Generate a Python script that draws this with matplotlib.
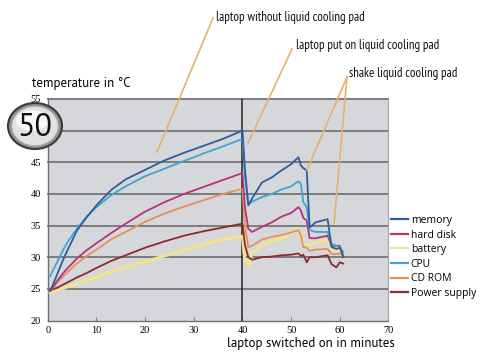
import matplotlib
matplotlib.use("Agg")
import matplotlib.pyplot as plt
from matplotlib.patches import Ellipse
from matplotlib.lines import Line2D

# ---- data (minutes, °C) ----
minutes = [0.5, 1, 2, 3, 4, 6, 8, 10, 13, 16, 20, 24, 28, 32, 36, 40, 40.5, 41.2, 42, 44, 46, 48, 50,
           51.5, 52, 52.5, 53.2, 53.8, 55, 57.5, 58.3, 59.3, 60, 60.7]
memory = [24.7, 25.5, 27.4, 29.3, 31.0, 34.2, 36.3, 38.2, 40.6, 42.3, 43.8, 45.3, 46.5, 47.6, 48.7, 50.0, 44.0,
          38.2, 39.3, 41.8, 42.6, 43.7, 44.7, 45.8, 44.5, 44.1, 43.7, 34.7, 35.5, 36.0, 31.6, 31.3, 31.5, 30.2]
hard_disk = [24.7, 25.2, 26.3, 27.3, 28.2, 29.8, 31.1, 32.2, 33.8, 35.3, 37.2, 38.7, 40.0, 41.1, 42.2, 43.3, 38.0,
             34.5, 34.0, 34.8, 35.5, 36.4, 37.0, 37.9, 37.4, 36.2, 35.8, 33.0, 33.0, 33.4, 31.8, 31.8, 31.8, 30.0]
battery = [24.4, 24.5, 24.8, 25.0, 25.3, 25.8, 26.4, 26.9, 27.7, 28.4, 29.3, 30.2, 31.1, 32.0, 32.8, 33.3, 29.5,
           28.6, 30.8, 31.8, 32.5, 33.0, 33.8, 34.5, 33.5, 32.1, 32.0, 32.0, 32.3, 32.8, 31.3, 31.0, 31.0, 30.8]
cpu = [27.0, 27.8, 29.3, 30.9, 32.3, 34.5, 36.4, 37.9, 39.8, 41.2, 42.8, 44.0, 45.2, 46.4, 47.5, 48.7, 43.0,
       38.3, 38.8, 39.5, 40.0, 40.7, 41.2, 42.0, 41.6, 38.7, 37.9, 34.3, 34.0, 34.0, 32.1, 31.8, 31.6, 30.8]
cd_rom = [24.7, 25.1, 26.0, 26.8, 27.6, 29.0, 30.2, 31.2, 32.8, 34.0, 35.6, 36.9, 38.0, 39.0, 40.0, 40.8, 35.0,
          31.6, 31.8, 32.8, 33.2, 33.5, 33.9, 34.3, 33.5, 31.6, 31.5, 31.0, 31.2, 31.3, 30.5, 30.5, 30.6, 30.3]
power_supply = [24.7, 24.9, 25.2, 25.6, 26.0, 26.8, 27.5, 28.3, 29.4, 30.3, 31.5, 32.5, 33.4, 34.1, 34.7, 35.3, 32.0,
                30.0, 29.6, 30.0, 30.1, 30.3, 30.4, 30.6, 30.2, 30.4, 29.2, 30.0, 30.0, 30.3, 28.9, 28.4, 29.2, 29.0]

series_names = ["memory", "hard disk", "battery", "CPU", "CD ROM", "Power supply"]
series_values = [memory, hard_disk, battery, cpu, cd_rom, power_supply]
series_colors = ["#2c5f9e", "#b5337a", "#f3e48c", "#3fa4d2", "#e3925a", "#8a2b2e"]
series_widths = [1.3, 1.3, 2.2, 1.3, 1.3, 1.3]

x_ticks = [0, 10, 20, 30, 40, 50, 60, 70]
y_ticks = [20, 25, 30, 35, 40, 45, 55]

W, H = 481, 358
fig = plt.figure(figsize=(W / 100, H / 100), dpi=100)
fig.patch.set_facecolor("white")


def fx(px):
    return px / W


def fy(py):
    return 1 - py / H


ax = fig.add_axes([fx(47.7), fy(320.5), fx(388.5) - fx(47.7), fy(99) - fy(320.5)])
ax.set_facecolor("#d5d7da")
ax.set_xlim(0, 70)
ax.set_ylim(20, 55)

for yv in [25, 30, 35, 40, 45, 50, 55]:
    ax.axhline(yv, color="#7b7c7e", lw=1.4, zorder=1, clip_on=False)
ax.axvline(40, color="#222222", lw=1.1, zorder=2)

order = [2, 5, 4, 1, 3, 0]
for i in order:
    ax.plot(minutes, series_values[i], color=series_colors[i], lw=series_widths[i], zorder=3,
            solid_joinstyle="round")

ax.spines["top"].set_visible(False)
ax.spines["right"].set_color("#a0a2a5")
ax.spines["right"].set_linewidth(0.8)
for s in ["left", "bottom"]:
    ax.spines[s].set_color("#6d6e70")
    ax.spines[s].set_linewidth(1.0)

ax.set_xticks(x_ticks)
ax.set_yticks(y_ticks)
ax.tick_params(axis="x", length=3, direction="in", color="#888888", labelsize=7.5, pad=4)
ax.tick_params(axis="y", length=0, labelsize=7.5, pad=5)
for lab in ax.get_xticklabels() + ax.get_yticklabels():
    lab.set_family("Liberation Serif")

# axis titles
fig.text(fx(32), fy(84), "temperature in °C", fontsize=9.3, family="PT Sans", va="center", ha="left")
fig.text(fx(227), fy(344), "laptop switched on in minutes", fontsize=9.3, family="PT Sans",
         va="center", ha="left")

# legend
handles = [Line2D([0], [0], color=c, lw=1.6) for c in series_colors]
leg = fig.legend(handles, series_names, loc="upper left", bbox_to_anchor=(fx(391), fy(215)),
                 frameon=False, handlelength=1.6, handletextpad=0.3,
                 labelspacing=0.34, borderpad=0, borderaxespad=0,
                 prop={"family": "Open Sans", "size": 7.5})

# annotations
ann_color = "#e6b26c"
fig.add_artist(Line2D([fx(213), fx(157)], [fy(18), fy(152)], color=ann_color, lw=1.2))
fig.add_artist(Line2D([fx(292), fx(248)], [fy(49), fy(143)], color=ann_color, lw=1.2))
fig.add_artist(Line2D([fx(347), fx(307)], [fy(77), fy(170)], color=ann_color, lw=1.2))
fig.add_artist(Line2D([fx(347), fx(334)], [fy(77), fy(224)], color=ann_color, lw=1.2))
ann_font = dict(fontsize=9.3, family="PT Sans Narrow", va="center", ha="left", color="#111111")
fig.text(fx(216), fy(17), "laptop without liquid cooling pad", **ann_font)
fig.text(fx(296), fy(45), "laptop put on liquid cooling pad", **ann_font)
fig.text(fx(349), fy(74), "shake liquid cooling pad", **ann_font)

# badge
cx, cy = fx(35), fy(126)
rw, rh = 54 / W, 46 / H
fig.add_artist(Ellipse((cx, cy), rw, rh, transform=fig.transFigure, facecolor="#8e8e8e",
                       edgecolor="#3a3a3a", lw=1.5, zorder=5))
fig.add_artist(Ellipse((cx, cy), rw * 0.86, rh * 0.86, transform=fig.transFigure, facecolor="#e2e2e2",
                       edgecolor="#b0b0b0", lw=0.8, zorder=6))
fig.add_artist(Ellipse((cx - rw * 0.05, cy + rh * 0.12), rw * 0.6, rh * 0.45, transform=fig.transFigure,
                       facecolor="#f8f8f8", edgecolor="none", zorder=6))
fig.text(cx, cy - 0.006, "50", fontsize=23, family="PT Sans", ha="center", va="center", color="#111111",
         zorder=7)

fig.savefig("out.png", dpi=100)
